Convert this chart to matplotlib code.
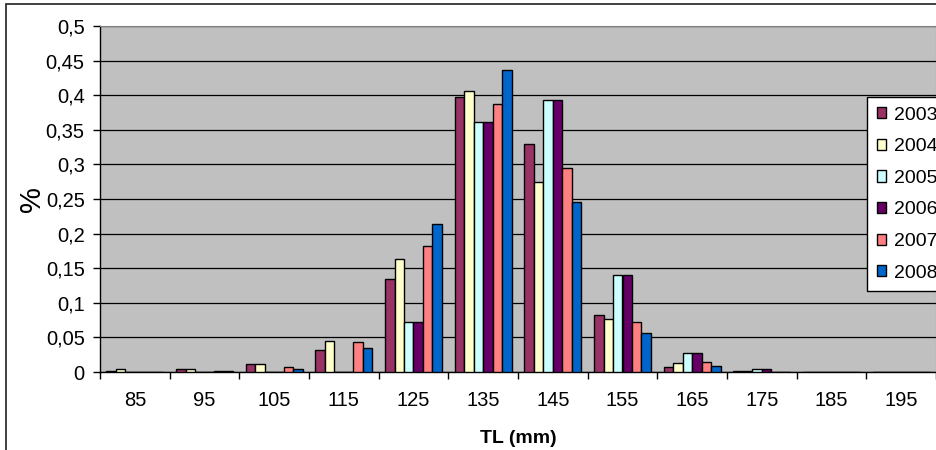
"""Length-frequency distribution of catches by year (TL classes)."""

import matplotlib

matplotlib.use("Agg")
import matplotlib.pyplot as plt
import numpy as np
from matplotlib.patches import Rectangle
from matplotlib.ticker import FuncFormatter, MultipleLocator


TL_CLASSES = ["85", "95", "105", "115", "125", "135", "145", "155", "165", "175", "185", "195"]
YEARS = ["2003", "2004", "2005", "2006", "2007", "2008"]

FREQ_2003 = [0.002, 0.0045, 0.011, 0.032, 0.135, 0.397, 0.330, 0.083, 0.007, 0.002, 0.0, 0.0]
FREQ_2004 = [0.005, 0.0045, 0.011, 0.045, 0.164, 0.406, 0.274, 0.077, 0.013, 0.002, 0.0, 0.0]
FREQ_2005 = [0.0, 0.0, 0.0, 0.0, 0.072, 0.361, 0.393, 0.140, 0.028, 0.004, 0.0, 0.0]
FREQ_2006 = [0.0, 0.0, 0.0, 0.0, 0.072, 0.361, 0.393, 0.140, 0.028, 0.004, 0.0, 0.0]
FREQ_2007 = [0.0, 0.002, 0.007, 0.043, 0.182, 0.388, 0.295, 0.072, 0.015, 0.0, 0.0, 0.0]
FREQ_2008 = [0.0, 0.002, 0.005, 0.034, 0.214, 0.437, 0.245, 0.057, 0.009, 0.0, 0.0, 0.0]

SERIES = [FREQ_2003, FREQ_2004, FREQ_2005, FREQ_2006, FREQ_2007, FREQ_2008]
COLORS = ["#993366", "#FFFFCC", "#CCFFFF", "#660066", "#FF8080", "#0066CC"]

FONT = ["Liberation Sans", "DejaVu Sans"]


def comma_fmt(v, _pos):
    s = f"{v:.2f}".rstrip("0").rstrip(".")
    return s.replace(".", ",")


def main() -> None:
    plt.rcParams["font.family"] = FONT
    fig = plt.figure(figsize=(9.36, 4.5), dpi=100)
    ax = fig.add_axes([100 / 936, 78 / 450, 836 / 936, 346 / 450])

    # outer chart border (right and bottom edges fall outside the canvas)
    fig.patches.append(Rectangle((6 / 936, -0.05), 1.0, 1 - 3.5 / 450 + 0.05,
                                 transform=fig.transFigure, fill=False,
                                 edgecolor="#202020", linewidth=1.2, zorder=0))

    x = np.arange(len(TL_CLASSES))
    width = 0.136
    for i, (year, vals, col) in enumerate(zip(YEARS, SERIES, COLORS)):
        ax.bar(x + (i - 2.5) * width, vals, width=width, color=col,
               edgecolor="black", linewidth=1.0, label=year, zorder=3)

    ax.set_facecolor("#C0C0C0")
    ax.set_xlim(-0.5, len(TL_CLASSES) - 0.5)
    ax.set_ylim(0, 0.5)
    ax.yaxis.set_major_locator(MultipleLocator(0.05))
    ax.yaxis.set_major_formatter(FuncFormatter(comma_fmt))
    ax.grid(axis="y", color="black", linewidth=0.9, zorder=1)

    ax.set_xticks(x)
    ax.set_xticklabels(TL_CLASSES)
    ax.set_xticks(np.arange(-0.5, len(TL_CLASSES)), minor=True)
    ax.tick_params(axis="x", which="major", length=0, pad=14, labelsize=14.5)
    ax.tick_params(axis="x", which="minor", length=5, width=1, direction="out")
    ax.tick_params(axis="y", length=5, width=1, direction="out", pad=6, labelsize=14.5)

    for side in ("top", "right"):
        ax.spines[side].set_color("#808080")
    for side in ("left", "bottom"):
        ax.spines[side].set_color("black")
        ax.spines[side].set_linewidth(1.0)

    ax.set_xlabel("TL (mm)", fontsize=14, fontweight="bold", labelpad=14)
    ax.set_ylabel("%", fontsize=21, labelpad=0)

    leg = fig.legend(loc="upper left", bbox_to_anchor=(867 / 936, 1 - 97 / 450),
                     borderaxespad=0, fontsize=14, frameon=True, fancybox=False,
                     handlelength=0.5, handleheight=0.5, handletextpad=0.4,
                     labelspacing=0.75, borderpad=0.5)
    frame = leg.get_frame()
    frame.set_edgecolor("black")
    frame.set_linewidth(1.0)
    frame.set_alpha(1.0)

    fig.savefig("out.png", dpi=100)
    plt.close(fig)


if __name__ == "__main__":
    main()
